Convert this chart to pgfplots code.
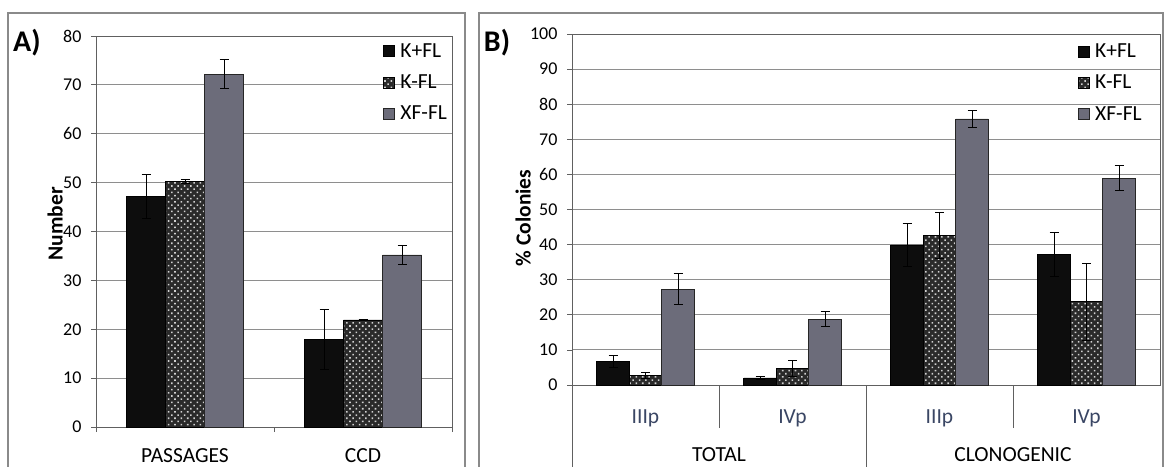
\documentclass[border=0pt]{standalone}
\usepackage{pgfplots}
\pgfplotsset{compat=1.18}
\usepackage{pgfplotstable}
\usepackage{fontspec}
\setmainfont{Carlito}
\usetikzlibrary{patterns.meta}

\definecolor{xfgray}{HTML}{6C6C7A}
\definecolor{gridc}{HTML}{8E8E8E}
\definecolor{framec}{HTML}{8A8A8A}
\definecolor{catblue}{HTML}{3A4664}
\definecolor{kfl}{HTML}{2A2A2A}

% Panel A
\pgfplotstableread{
x y e
0 47.1 4.5
1 17.9 6.2
}\Akp
\pgfplotstableread{
x y e
0 50.3 0.4
1 21.9 0.0
}\Akm
\pgfplotstableread{
x y e
0 72.2 2.9
1 35.2 1.9
}\Axf

% Panel B
\pgfplotstableread{
x y e
0 6.6 1.7
1 2.0 0.4
2 39.9 6.2
3 37.2 6.2
}\Bkp
\pgfplotstableread{
x y e
0 2.7 0.8
1 4.8 2.3
2 42.5 6.6
3 23.7 11.0
}\Bkm
\pgfplotstableread{
x y e
0 27.3 4.5
1 18.8 2.2
2 75.8 2.4
3 58.9 3.5
}\Bxf

\pgfplotsset{
  panel/.style={
    scale only axis, anchor=south west,
    ybar=0pt, ymin=0,
    axis line style={gray!75!black, line width=0.8pt},
    ymajorgrids, grid style={gridc, line width=0.9pt},
    tick pos=left, tick align=outside,
    major tick length=5pt, minor tick length=5pt,
    tick style={gray!75!black, line width=0.8pt},
    /pgf/number format/assume math mode=true,
    yticklabel style={font=\fontsize{18}{18}\selectfont, xshift=-6pt},
    xticklabel style={font=\fontsize{21.5}{21.5}\selectfont, anchor=base},
    xtick style={/pgfplots/major tick length=0pt},
    ylabel style={font=\bfseries\fontsize{21.5}{21.5}\selectfont},
    legend cell align=left,
    legend style={draw=none, fill=none, font=\fontsize{21.5}{21.5}\selectfont,
      row sep=13pt, anchor=north west, inner sep=0pt,
      nodes={inner sep=1.5pt},
      /tikz/every odd column/.append style={column sep=4pt}},
    legend image code/.code={\draw[##1] (0pt,-5.5pt) rectangle (11pt,5.5pt);},
  },
  sKp/.style={fill=black!95, draw=black, line width=0.8pt},
  sKm/.style={fill=kfl, draw=black, line width=0.8pt,
     postaction={pattern={Dots[distance=4.5pt, angle=45, radius=1.1pt]}, pattern color=white!82!black}},
  sXf/.style={fill=xfgray, draw=black!85, line width=0.8pt},
  eb/.style={error bars/.cd, y dir=both, y explicit,
      error bar style={black, line width=1pt},
      error mark options={rotate=90, mark size=4.5pt, line width=1pt, black}},
}

\begin{document}
\begin{tikzpicture}[x=1pt,y=1pt]
\path[use as bounding box] (0,0) rectangle (1167,466);
\draw[framec, line width=1.2pt] (8,-3) -- (8,453) -- (465,453) -- (465,-3);
\draw[framec, line width=1.2pt] (479,-3) -- (479,453) -- (1163,453) -- (1163,-3);
\node[font=\bfseries\fontsize{30}{30}\selectfont] at (27,423) {A)};
\node[font=\bfseries\fontsize{30}{30}\selectfont] at (497,423) {B)};

% ---------------- Panel A
\begin{axis}[panel, at={(96pt,39pt)}, width=356pt, height=391pt,
  bar width=39pt,
  xmin=-0.5, xmax=1.5, ymax=80, ytick={0,10,...,80},
  xtick={0,1}, xticklabels={PASSAGES,CCD},
  xticklabel style={yshift=-30pt, inner sep=0pt, text depth=0pt},
  minor xtick={-0.5,0.5,1.5},
  ylabel={Number},
  ylabel style={at={(axis description cs:-0.115,0.52)}, anchor=center},
  legend style={at={(axis description cs:0.806,0.985)}},
  clip=false]
\addplot[sKp, eb] table[x=x,y=y,y error=e]{\Akp};
\addplot[sKm, eb] table[x=x,y=y,y error=e]{\Akm};
\addplot[sXf, eb] table[x=x,y=y,y error=e]{\Axf};
\legend{K+FL, K-FL, XF-FL}
\end{axis}

% ---------------- Panel B
\begin{axis}[panel, at={(572pt,81pt)}, width=588pt, height=351pt,
  bar width=32.5pt,
  xmin=-0.5, xmax=3.5, ymax=100, ytick={0,10,...,100},
  xtick={0,1,2,3}, xticklabels={IIIp,IVp,IIIp,IVp},
  xticklabel style={yshift=-33pt, text=catblue},
  minor xtick={0.5,2.5},
  minor x tick style={/pgfplots/minor tick length=43pt},
  ylabel={\% Colonies},
  ylabel style={at={(axis description cs:-0.083,0.476)}, anchor=center},
  legend style={at={(axis description cs:0.860,0.977)}},
  clip=false]
\addplot[sKp, eb] table[x=x,y=y,y error=e]{\Bkp};
\addplot[sKm, eb] table[x=x,y=y,y error=e]{\Bkm};
\addplot[sXf, eb] table[x=x,y=y,y error=e]{\Bxf};
\legend{K+FL, K-FL, XF-FL}
\draw[gray!75!black, line width=0.8pt] (axis cs:-0.5,0) -- ++(0pt,-84pt);
\draw[gray!75!black, line width=0.8pt] (axis cs:1.5,0) -- ++(0pt,-84pt);
\node[anchor=base, inner sep=0pt, text depth=0pt, font=\fontsize{21.5}{21.5}\selectfont] at ([yshift=-76pt]axis cs:0.5,0) {TOTAL};
\node[anchor=base, inner sep=0pt, text depth=0pt, font=\fontsize{21.5}{21.5}\selectfont] at ([yshift=-76pt]axis cs:2.5,0) {CLONOGENIC};
\end{axis}
\end{tikzpicture}
\end{document}
